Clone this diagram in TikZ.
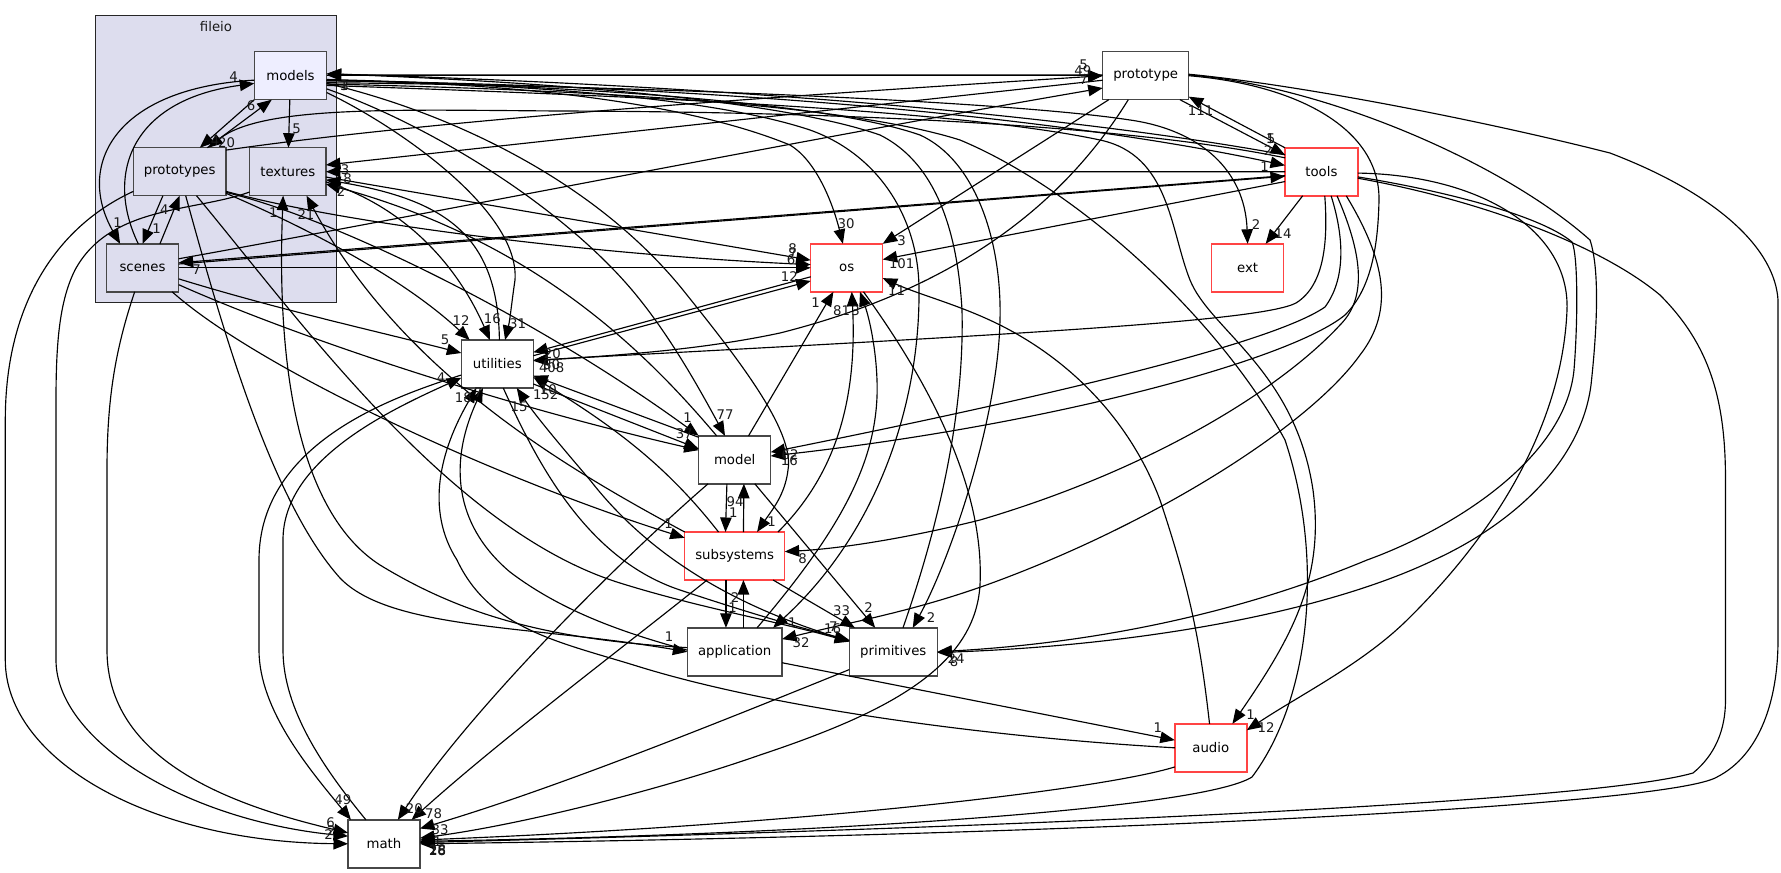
\documentclass[tikz,border=0pt]{standalone}
\usepackage{fontspec}
\setmainfont{DejaVu Sans}
\usetikzlibrary{arrows.meta}

\begin{document}
\begin{tikzpicture}[x=1pt, y=-1pt,
    dirbox/.style={rectangle, draw=black!72, line width=1.5pt, fill=white, minimum height=48pt, inner sep=0pt, outer sep=0pt, font=\fontsize{13.3}{15}\selectfont},
    subdir/.style={dirbox, fill=fileioFill},
    reddir/.style={dirbox, draw=redBorder},
    dep/.style={-{Triangle[length=14.5pt, width=11.5pt]}, line width=1.15pt, black},
    num/.style={inner sep=0pt, font=\fontsize{13.3}{15}\selectfont, text=black!90}]
    \definecolor{fileioFill}{HTML}{DDDDEE}
    \definecolor{modelsFill}{HTML}{EEEEFF}
    \definecolor{redBorder}{HTML}{FF4444}
    \useasboundingbox (0,0) rectangle (1781,873);

    % Cluster
    \node[rectangle, draw=black!85, line width=1pt, fill=fileioFill, minimum width=241.3pt, minimum height=287pt, inner sep=0pt, outer sep=0pt] (fileio) at (216.3,159.2) {};
    \node[num] (fileiotitle) at (216,27) {fileio};

    % Directories
    \node[subdir, fill=modelsFill, minimum width=72.4pt] (models) at (290.5,75.7) {models};
    \node[subdir, minimum width=92.7pt] (prototypes) at (179.7,171.7) {prototypes};
    \node[subdir, minimum width=76.3pt] (textures) at (287.8,171.7) {textures};
    \node[subdir, minimum width=72.4pt] (scenes) at (142.5,267.8) {scenes};
    \node[dirbox, minimum width=86pt] (prototype) at (1145.7,75.7) {prototype};
    \node[reddir, minimum width=72.8pt] (tools) at (1321.4,171.8) {tools};
    \node[reddir, minimum width=72pt] (ext) at (1247.6,267.8) {ext};
    \node[reddir, minimum width=72pt] (os) at (846.7,267.8) {os};
    \node[dirbox, minimum width=72pt] (utilities) at (497.3,364) {utilities};
    \node[dirbox, minimum width=72pt] (model) at (734.7,459.8) {model};
    \node[reddir, minimum width=100pt] (subsystems) at (734.7,556) {subsystems};
    \node[dirbox, minimum width=94.7pt] (application) at (734.7,651.8) {application};
    \node[dirbox, minimum width=88pt] (primitives) at (893.3,651.8) {primitives};
    \node[reddir, minimum width=72pt] (audio) at (1210.8,747.8) {audio};
    \node[dirbox, minimum width=72pt] (math) at (384,843.8) {math};

    % Inside fileio
    \draw[dep] (models.south west) -- (prototypes.50);
    \draw[dep] (prototypes.41.6) -- (models.232);
    \draw[dep] (scenes.100) .. controls (105,175) and (130,100) .. (models.192);
    \draw[dep] (models.187) .. controls (115,88) and (75,165) .. (scenes.133);
    \draw[dep] (models) -- (textures);
    \draw[dep] (prototypes.235) -- (scenes.north);
    \draw[dep] (scenes.54) -- (prototypes.south);

    % From fileio to math
    \draw[dep] (prototypes.203) .. controls (60,225) and (5.3,300) .. (5.3,420) -- (5.3,660) .. controls (5.3,760) and (150,842) .. (math.west);
    \draw[dep] (textures.208) .. controls (195,212) and (110,205) .. (75,270) .. controls (60,300) and (56,340) .. (56,400) -- (56,660) .. controls (56,740) and (185,820) .. (math.168);
    \draw[dep] (scenes.252) .. controls (115,350) and (107,400) .. (107,470) -- (107,650) .. controls (107,760) and (230,805) .. (math.163);

    % utilities and math
    \draw[dep] (utilities.197) .. controls (400,395) and (259,440) .. (259,560) -- (259,650) .. controls (259,710) and (310,770) .. (math.144);
    \draw[dep] (math.127) .. controls (325,770) and (283,710) .. (283,650) -- (283,540) .. controls (283,460) and (390,410) .. (utilities.201);

    % application, audio and primitives towards the upper left
    \draw[dep] (prototypes.284) .. controls (220,320) and (270,500) .. (340,578) .. controls (390,630) and (530,625) .. (application.west);
    \draw[dep] (application.175) .. controls (560,640) and (470,620) .. (380,565) .. controls (310,520) and (275,400) .. (textures.259);
    \draw[dep] (audio.west) .. controls (1000,738) and (780,710) .. (640,667) .. controls (560,642) and (490,630) .. (457,560) .. controls (425,510) and (440,450) .. (utilities.229);
    \draw[dep] (application.178) .. controls (620,632) and (560,610) .. (510,572) .. controls (460,530) and (445,470) .. (utilities.239);
    \draw[dep] (primitives.166) .. controls (760,615) and (660,570) .. (590,480) .. controls (560,445) and (535,415) .. (utilities.309);
    \draw[dep] (utilities.284) .. controls (540,470) and (590,560) .. (680,590) .. controls (740,610) and (800,628) .. (primitives.165);
    \draw[dep] (prototypes.305) .. controls (300,320) and (450,530) .. (620,583) .. controls (700,608) and (780,622) .. (primitives.167);
    \draw[dep] (subsystems.north west) .. controls (560,465) and (400,370) .. (textures.308);

    % Out of scenes and prototypes
    \draw[dep] (scenes.321) .. controls (260,370) and (500,480) .. (subsystems.160);
    \draw[dep] (scenes.335) .. controls (280,330) and (480,400) .. (model.165);
    \draw[dep] (scenes.343) .. controls (280,310) and (380,332) .. (utilities.163);
    \draw[dep] (prototypes.335) .. controls (300,225) and (400,275) .. (utilities.139);
    \draw[dep] (prototypes.336) .. controls (340,220) and (540,320) .. (model.north west);
    \draw[dep] (prototypes.337) .. controls (350,225) and (600,255) .. (os.175);
    \draw[dep] (prototypes.25) .. controls (450,118) and (800,95) .. (prototype.west);
    \draw[dep] (tools.159) .. controls (1150,130) and (900,112) .. (560,111) .. controls (400,110) and (262,105) .. (prototypes.40);
    \draw[dep] (scenes.east) -- (os.west);
    \draw[dep] (scenes.6) -- (tools.187);
    \draw[dep] (tools.186) -- (scenes.8);
    \draw[dep] (scenes.14) .. controls (450,210) and (800,140) .. (prototype.196);

    % Out of models
    \draw[dep] (models.east) -- (prototype.west);
    \draw[dep] (prototype.179) -- (models.1);
    \draw[dep] (models.352) .. controls (700,85) and (1050,115) .. (tools.170);
    \draw[dep] (tools.155) .. controls (1050,112) and (700,85) .. (models.3);
    \draw[dep] (models.349) .. controls (600,85) and (1000,100) .. (1130,120) .. controls (1200,130) and (1245,170) .. (ext.north);
    \draw[dep] (models.345) .. controls (600,95) and (950,108) .. (1100,140) .. controls (1170,155) and (1170,230) .. (1190,280) .. controls (1210,330) and (1295,370) .. (1313,490) .. controls (1325,580) and (1290,640) .. (audio.48);
    \draw[dep] (models.347) .. controls (600,90) and (850,105) .. (960,140) .. controls (1080,190) and (1220,320) .. (1285,440) .. controls (1325,560) and (1310,700) .. (1252,777) .. controls (1200,810) and (800,835) .. (math.4);
    \draw[dep] (models.335) .. controls (395,125) and (520,210) .. (515,280) .. controls (512,300) and (510,320) .. (utilities.72);
    \draw[dep] (models.340) .. controls (430,125) and (560,205) .. (632,290) .. controls (670,335) and (700,390) .. (model.112);
    \draw[dep] (models.348) .. controls (440,110) and (590,175) .. (683,290) .. controls (735,355) and (795,430) .. (788,470) .. controls (785,495) and (772,510) .. (subsystems.47);
    \draw[dep] (models.352) .. controls (500,82) and (680,100) .. (790,145) .. controls (815,160) and (832,200) .. (os.99);
    \draw[dep] (models.354) .. controls (550,85) and (720,100) .. (810,130) .. controls (880,155) and (919,220) .. (919,290) .. controls (920,400) and (880,530) .. (application.32);
    \draw[dep] (primitives.68) .. controls (930,550) and (965,430) .. (962,310) .. controls (958,240) and (940,165) .. (880,135) .. controls (780,100) and (550,82) .. (models.3);
    \draw[dep] (models.353) .. controls (550,85) and (820,100) .. (920,135) .. controls (975,160) and (1002,240) .. (1000,320) .. controls (998,420) and (950,560) .. (primitives.51);

    % Out of tools
    \draw[dep] (tools.west) -- (textures.east);
    \draw[dep] (tools.358) .. controls (1480,175) and (1570,230) .. (1567,310) .. controls (1563,410) and (1510,520) .. (1404,623) .. controls (1360,665) and (1300,695) .. (audio.26);
    \draw[dep] (tools.352) .. controls (1440,190) and (1540,215) .. (1572,242) .. controls (1578,255) and (1578,320) .. (1574,370) .. controls (1565,460) and (1450,530) .. (1367,560) .. controls (1290,592) and (1150,640) .. (primitives.east);
    \draw[dep] (tools.350) .. controls (1480,200) and (1600,245) .. (1660,295) .. controls (1710,345) and (1725.5,400) .. (1725.5,480) -- (1725.5,700) .. controls (1725.5,730) and (1715,755) .. (1693,773) .. controls (1600,800) and (1100,825) .. (math.2);
    \draw[dep] (tools.292) .. controls (1345,240) and (1345,280) .. (1325,307) .. controls (1270,345) and (1030,400) .. (model.12);
    \draw[dep] (tools.303) .. controls (1365,260) and (1365,300) .. (1340,325) .. controls (1280,390) and (1150,470) .. (980,520) .. controls (920,535) and (850,548) .. (subsystems.5);
    \draw[dep] (tools.316) .. controls (1385,260) and (1395,310) .. (1360,355) .. controls (1310,425) and (1160,520) .. (1000,580) .. controls (920,610) and (860,620) .. (application.15);
    \draw[dep] (tools.278) .. controls (1328,240) and (1325,285) .. (1296,303) .. controls (1260,322) and (1000,335) .. (utilities.6);
    \draw[dep] (tools.195) -- (os.13);
    \draw[dep] (tools.232) -- (ext.53);

    % Out of prototype
    \draw[dep] (prototype.325) -- (tools.155);
    \draw[dep] (tools.north west) -- (prototype.334);
    \draw[dep] (prototype.2) .. controls (1300,85) and (1480,120) .. (1610,153) .. controls (1720,195) and (1775,250) .. (1778,300) -- (1778,640) .. controls (1778,700) and (1760,755) .. (1717,777) .. controls (1670,805) and (1100,835) .. (math.east);
    \draw[dep] (prototype.1) .. controls (1320,85) and (1500,160) .. (1590,240) .. controls (1600,270) and (1597,330) .. (1591,385) .. controls (1580,470) and (1500,530) .. (1434,560) .. controls (1330,610) and (1150,645) .. (primitives.359);
    \draw[dep] (prototype.0) .. controls (1300,85) and (1380,130) .. (1379,200) .. controls (1378,250) and (1370,290) .. (1345,315) .. controls (1290,360) and (1050,425) .. (model.6);
    \draw[dep] (prototype.234) .. controls (1060,210) and (950,290) .. (780,333) .. controls (700,350) and (620,355) .. (utilities.5);
    \draw[dep] (prototype.213) -- (os.north east);
    \draw[dep] (prototype.186) -- (textures.10);

    % textures, utilities and os
    \draw[dep] (textures.352) -- (os.168);
    \draw[dep] (utilities.85) .. controls (498,235) and (445,200) .. (textures.348);
    \draw[dep] (textures.345) .. controls (400,205) and (455,260) .. (utilities.107);
    \draw[dep] (model.127) .. controls (640,345) and (530,240) .. (textures.342);
    \draw[dep] (utilities.13) -- (os.200);
    \draw[dep] (os.194) -- (utilities.18);

    % Around model and subsystems
    \draw[dep] (model.60) -- (os.241);
    \draw[dep] (subsystems.29) .. controls (830,480) and (858,410) .. (os.282);
    \draw[dep] (application.47) .. controls (840,530) and (880,460) .. (877,380) .. controls (876,350) and (870,320) .. (os.299);
    \draw[dep] (os.305) .. controls (920,370) and (985,480) .. (980,585) .. controls (975,670) and (880,715) .. (760,755) .. controls (660,790) and (520,825) .. (math.9);
    \draw[dep] (subsystems.124) .. controls (670,470) and (620,430) .. (utilities.340);
    \draw[dep] (model.148) -- (utilities.342);
    \draw[dep] (utilities.331) -- (model.163);
    \draw[dep] (model.222) .. controls (620,560) and (470,710) .. (math.60);
    \draw[dep] (subsystems.221) .. controls (620,650) and (500,740) .. (math.41);
    \draw[dep] (primitives.202) .. controls (700,730) and (550,790) .. (math.23);
    \draw[dep] (audio.208) .. controls (1100,790) and (800,825) .. (math.6);
    \draw[dep] (audio.93) .. controls (1200,640) and (1190,590) .. (1160,500) .. controls (1130,420) and (1070,360) .. (1000,325) .. controls (960,305) and (920,295) .. (os.344);
    \draw[dep] (application.347) -- (audio.168);
    \draw[dep] (model.252) -- (subsystems.111);
    \draw[dep] (subsystems.70) -- (model.291);
    \draw[dep] (subsystems.250) -- (application.110);
    \draw[dep] (application.70) -- (subsystems.290);
    \draw[dep] (subsystems.328) -- (primitives.148);
    \draw[dep] (model.310) -- (primitives.127);

    % Edge counts
    \node[num] (n01) at (233.7,76.7) {4};
    \node[num] (n02) at (251,106) {6};
    \node[num] (n03) at (215,141) {4};
    \node[num] (n04) at (226.7,142.7) {20};
    \node[num] (n05) at (296.7,128.3) {5};
    \node[num] (n06) at (117.7,222.7) {1};
    \node[num] (n07) at (156.7,228.7) {1};
    \node[num] (n08) at (164.3,210) {4};
    \node[num] (n09) at (273.3,212.3) {1};
    \node[num] (n10) at (306,215) {21};
    \node[num] (n11) at (345,170) {3};
    \node[num] (n12) at (347.7,179) {8};
    \node[num] (n13) at (341,191.7) {2};
    \node[num] (n14) at (196.7,270) {7};
    \node[num] (n15) at (344,85.7) {1};
    \node[num] (n16) at (344.5,85.7) {3};
    \node[num] (n17) at (846,223.3) {30};
    \node[num] (n18) at (901.7,240.7) {3};
    \node[num] (n19) at (792.7,248.3) {8};
    \node[num] (n20) at (792.7,253.3) {7};
    \node[num] (n21) at (791,259.3) {6};
    \node[num] (n22) at (789.3,276.7) {12};
    \node[num] (n23) at (901.7,264) {101};
    \node[num] (n24) at (896.7,290.7) {11};
    \node[num] (n25) at (815.7,302.7) {1};
    \node[num] (n26) at (841.7,310.7) {81};
    \node[num] (n27) at (855.7,310.7) {3};
    \node[num] (n28) at (1083.7,65) {5};
    \node[num] (n29) at (1082.8,70.7) {49};
    \node[num] (n30) at (1083.7,79.3) {7};
    \node[num] (n31) at (1200.6,111) {111};
    \node[num] (n32) at (1270.4,138.3) {1};
    \node[num] (n33) at (1271,138.3) {5};
    \node[num] (n34) at (1268,150.7) {2};
    \node[num] (n35) at (1264.7,166.7) {1};
    \node[num] (n36) at (1256,225) {2};
    \node[num] (n37) at (1283,233.3) {14};
    \node[num] (n38) at (461,320.7) {12};
    \node[num] (n39) at (492.3,318.3) {16};
    \node[num] (n40) at (517.7,323.3) {31};
    \node[num] (n41) at (445,339.3) {5};
    \node[num] (n42) at (552.3,353.3) {20};
    \node[num] (n43) at (551.7,365) {80};
    \node[num] (n44) at (551.7,367.7) {408};
    \node[num] (n45) at (441,377.3) {4};
    \node[num] (n46) at (463.3,397.7) {18};
    \node[num] (n47) at (478.3,392.3) {7};
    \node[num] (n48) at (519,406.7) {15};
    \node[num] (n49) at (548.3,389.3) {10};
    \node[num] (n50) at (545.7,395) {152};
    \node[num] (n51) at (687.7,417.7) {1};
    \node[num] (n52) at (680,434) {3};
    \node[num] (n53) at (688.3,434) {7};
    \node[num] (n54) at (725,415) {77};
    \node[num] (n55) at (790,454.3) {62};
    \node[num] (n56) at (789.3,461) {16};
    \node[num] (n57) at (735,501.7) {94};
    \node[num] (n58) at (733.3,512.7) {1};
    \node[num] (n59) at (668.7,523.3) {1};
    \node[num] (n60) at (771.7,521.7) {1};
    \node[num] (n61) at (802.7,558.3) {8};
    \node[num] (n62) at (735,597.7) {2};
    \node[num] (n63) at (732.7,607.7) {1};
    \node[num] (n64) at (841.7,610.7) {33};
    \node[num] (n65) at (868.7,607.7) {2};
    \node[num] (n66) at (931,617.7) {2};
    \node[num] (n67) at (792.3,622.7) {1};
    \node[num] (n68) at (833.3,626.7) {7};
    \node[num] (n69) at (832.7,628.3) {16};
    \node[num] (n70) at (801,642.7) {32};
    \node[num] (n71) at (669,636.7) {1};
    \node[num] (n72) at (956,658.3) {24};
    \node[num] (n73) at (954,661.7) {8};
    \node[num] (n74) at (342.9,799.3) {49};
    \node[num] (n75) at (330.6,822.7) {6};
    \node[num] (n76) at (331.4,830.7) {2};
    \node[num] (n77) at (328.6,835) {2};
    \node[num] (n78) at (414.3,808.3) {20};
    \node[num] (n79) at (433.5,814) {78};
    \node[num] (n80) at (440,829.3) {33};
    \node[num] (n81) at (437.6,841.7) {1};
    \node[num] (n82) at (437.6,850.7) {28};
    \node[num] (n83) at (437.6,851) {26};
    \node[num] (n84) at (437.6,850) {18};
    \node[num] (n85) at (1157.8,727.7) {1};
    \node[num] (n86) at (1250.7,714.3) {1};
    \node[num] (n87) at (1266,727.7) {12};
\end{tikzpicture}
\end{document}
